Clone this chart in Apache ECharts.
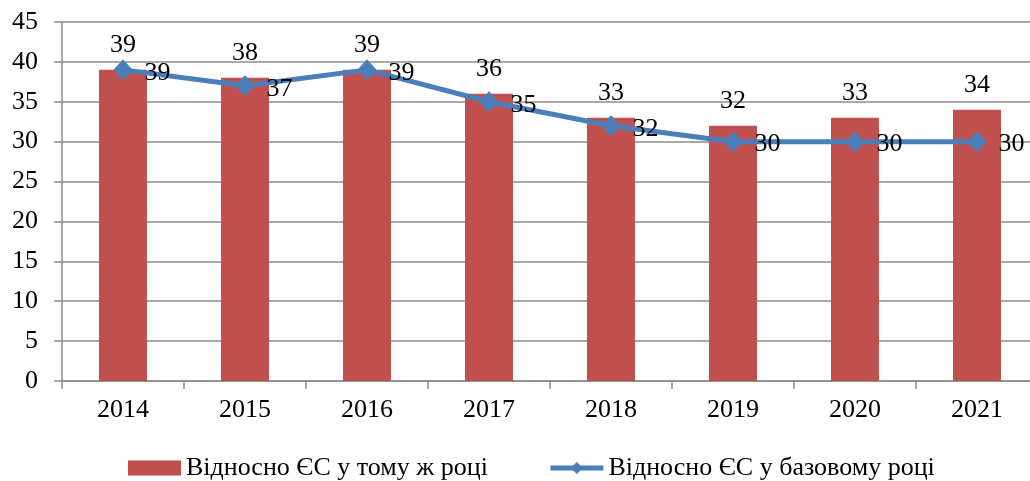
<!DOCTYPE html>
<html>
<head>
<meta charset="utf-8">
<script src="https://cdn.jsdelivr.net/npm/echarts@6/dist/echarts.min.js"></script>
<style>html,body{margin:0;padding:0;background:#fff}#c{width:1030px;height:481px}</style>
</head>
<body>
<div id="c"></div>
<script>
const categories = ['2014','2015','2016','2017','2018','2019','2020','2021'];
const sameYear = [39,38,39,36,33,32,33,34];
const baseYear = [39,37,39,35,32,30,30,30];
const seriesNames = ['Відносно ЄС у тому ж році','Відносно ЄС у базовому році'];

const font = 'serif';
const chart = echarts.init(document.getElementById('c'));
chart.setOption({
  animation: false,
  backgroundColor: '#fff',
  textStyle: {fontFamily: font},
  grid: {left: 62, width: 976, top: 22, bottom: 100, containLabel: false, outerBoundsMode: 'none'},
  legend: {
    left: 123, top: 450,
    itemWidth: 53, itemHeight: 15, itemGap: 60,
    textStyle: {fontFamily: font, fontSize: 26, color: '#000'},
    data: [
      {name: seriesNames[0], icon: 'rect'},
      {name: seriesNames[1], lineStyle: {width: 5}}
    ]
  },
  xAxis: {
    type: 'category', data: categories,
    axisLine: {lineStyle: {color: '#8c8c8c', width: 1.5}},
    axisTick: {show: true, length: 8, alignWithLabel: false, lineStyle: {color: '#8c8c8c', width: 1.5}},
    axisLabel: {fontFamily: font, fontSize: 26, color: '#000', margin: 16}
  },
  yAxis: {
    type: 'value', min: 0, max: 45, interval: 5,
    axisLine: {show: true, lineStyle: {color: '#8c8c8c', width: 1.5}},
    axisTick: {show: true, length: 8, lineStyle: {color: '#8c8c8c', width: 1.5}},
    splitLine: {lineStyle: {color: '#8c8c8c', width: 1.5}},
    axisLabel: {fontFamily: font, fontSize: 26, color: '#000', margin: 24}
  },
  series: [
    {
      name: seriesNames[0], type: 'bar', data: sameYear,
      barWidth: 48,
      itemStyle: {color: '#c0504d'},
      label: {show: true, position: 'top', distance: 12, fontFamily: font, fontSize: 26, color: '#000'}
    },
    {
      name: seriesNames[1], type: 'line', data: baseYear,
      symbol: 'diamond', symbolSize: [19, 21],
      lineStyle: {color: '#4a7ebb', width: 5},
      itemStyle: {color: '#4a7ebb'},
      label: {show: true, position: 'right', distance: 12, fontFamily: font, fontSize: 26, color: '#000', offset: [0, 3]}
    }
  ]
});
</script>
</body>
</html>
